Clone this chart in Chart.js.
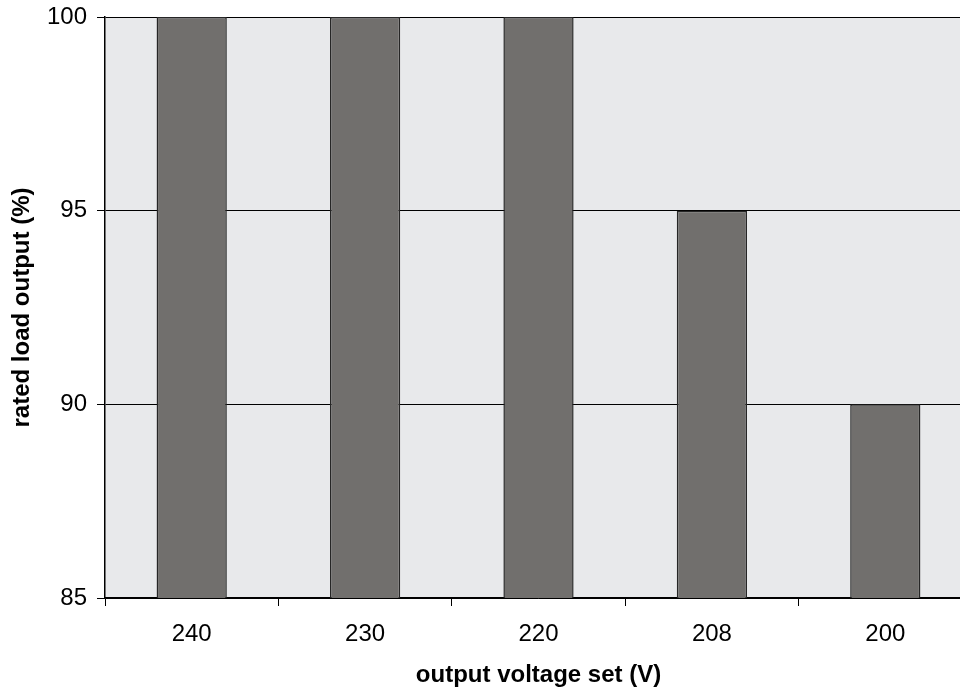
<!DOCTYPE html>
<html>
<head>
<meta charset="utf-8">
<script src="https://cdn.jsdelivr.net/npm/chart.js@4"></script>
<style>
    html, body { margin: 0; padding: 0; background: #fff; overflow: hidden; }
    #wrap { width: 960px; height: 691px; overflow: hidden; }
</style>
</head>
<body>
<div id="wrap">
    <canvas id="ratedChart" width="972" height="691"></canvas>
</div>
<script>
// Values
const voltages = ['240', '230', '220', '208', '200'];
const ratedOutput = [100, 100, 100, 95, 90];
const yTicks = [85, 90, 95, 100];

const plotBackground = {
    id: 'plotBackground',
    beforeDraw(chart) {
        const { ctx, chartArea } = chart;
        ctx.save();
        ctx.fillStyle = '#e8e9eb';
        ctx.fillRect(chartArea.left, chartArea.top, chartArea.right - chartArea.left, chartArea.bottom - chartArea.top);
        ctx.restore();
    }
};

window.addEventListener('DOMContentLoaded', event => {
    const ctx = document.getElementById('ratedChart').getContext('2d');
    const fontFamily = 'Liberation Sans, Arial, sans-serif';
    new Chart(ctx, {
        type: 'bar',
        data: {
            labels: voltages,
            datasets: [{
                data: ratedOutput,
                backgroundColor: '#716f6d',
                borderColor: '#262626',
                borderWidth: 1.5,
                borderSkipped: 'start',
                categoryPercentage: 1,
                barPercentage: 0.405
            }]
        },
        options: {
            responsive: false,
            devicePixelRatio: 1,
            animation: false,
            layout: { padding: { top: 17, right: 0, left: 0, bottom: 0 } },
            plugins: {
                legend: { display: false },
                tooltip: { enabled: false }
            },
            scales: {
                x: {
                    grid: {
                        offset: true,
                        drawOnChartArea: false,
                        drawTicks: true,
                        tickLength: 8,
                        color: '#000',
                        lineWidth: 1
                    },
                    border: { display: true, color: '#000', width: 1.5 },
                    ticks: {
                        color: '#000',
                        padding: 14,
                        font: { family: fontFamily, size: 24 }
                    },
                    title: {
                        display: true,
                        text: 'output voltage set (V)',
                        color: '#000',
                        padding: { top: 0, bottom: 1 },
                        font: { family: fontFamily, size: 24, weight: 'bold' }
                    },
                    afterFit(scale) {
                        scale.height = 93;
                        scale.paddingLeft = 0;
                        scale.paddingRight = 0;
                    }
                },
                y: {
                    min: 85,
                    max: 100,
                    afterBuildTicks(scale) {
                        scale.ticks = yTicks.map(v => ({ value: v }));
                    },
                    grid: {
                        drawTicks: true,
                        tickLength: 8,
                        color: '#000',
                        lineWidth: 1
                    },
                    border: { display: true, color: '#000', width: 1.5 },
                    ticks: {
                        color: '#000',
                        padding: 10,
                        font: { family: fontFamily, size: 24 }
                    },
                    title: {
                        display: true,
                        text: 'rated load output (%)',
                        color: '#000',
                        padding: { top: 8, bottom: 0 },
                        font: { family: fontFamily, size: 24, weight: 'bold' }
                    },
                    afterFit(scale) {
                        scale.width = 105;
                        // keep the top tick label from pushing the plot down
                        scale.paddingTop = 0;
                        scale.paddingBottom = 0;
                    }
                }
            }
        },
        plugins: [plotBackground]
    });
});
</script>
</body>
</html>
